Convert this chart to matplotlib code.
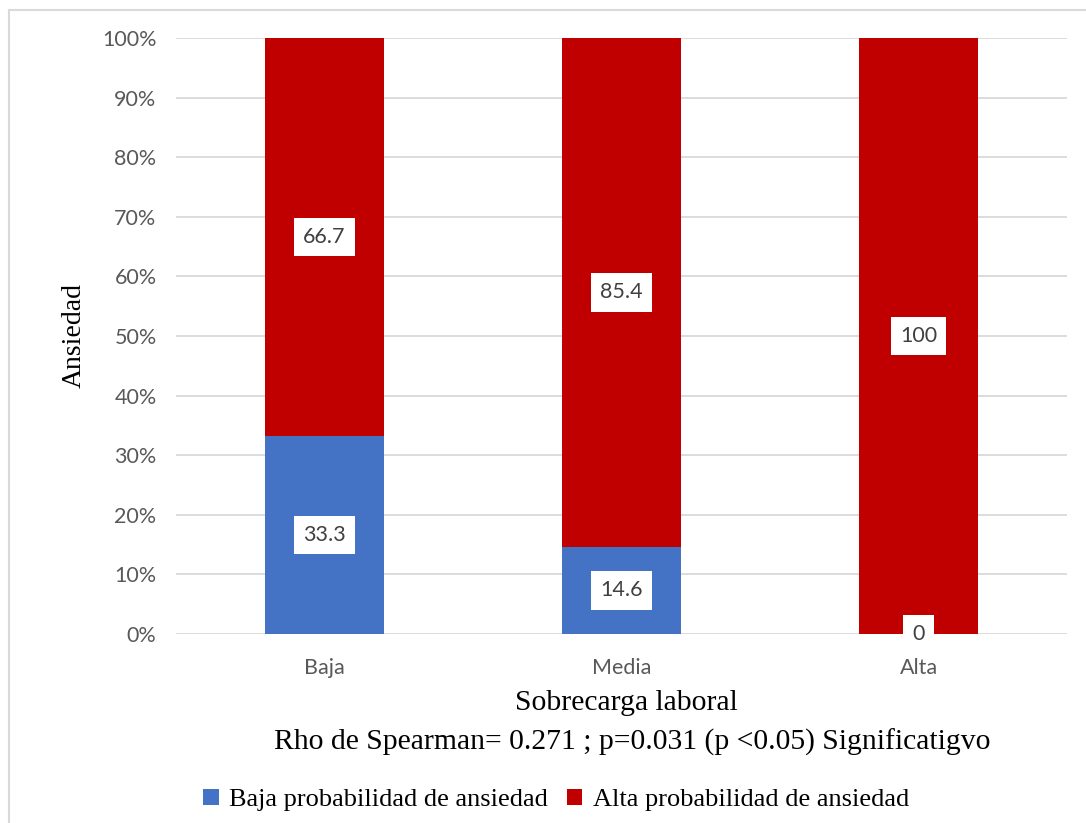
import numpy as np
import matplotlib
matplotlib.use("Agg")
import matplotlib.pyplot as plt
from matplotlib.patches import Rectangle

categories = ["Baja", "Media", "Alta"]
baja_prob = [33.3, 14.6, 0]
alta_prob = [66.7, 85.4, 100]
series_names = ["Baja probabilidad de ansiedad", "Alta probabilidad de ansiedad"]
colors = ["#4472C4", "#C00000"]

fig = plt.figure(figsize=(10.86, 8.23), dpi=100)
ax = fig.add_axes([176/1086, 1-634/823, (1067-176)/1086, (634-38)/823])

# outer chart border
fig.patches.append(Rectangle((9/1086, -0.1), 1.2, 1-10/823+0.1, transform=fig.transFigure,
                             fill=False, edgecolor="#D9D9D9", linewidth=1.5))

x = np.arange(len(categories))
b = np.array(baja_prob) / 100
a = np.array(alta_prob) / 100
ax.bar(x, b, width=0.4, color=colors[0], label=series_names[0], zorder=2)
ax.bar(x, a, width=0.4, bottom=b, color=colors[1], label=series_names[1], zorder=2)

box = dict(boxstyle="square,pad=0.42", facecolor="white", edgecolor="none")
lab_kw = dict(ha="center", va="center", fontsize=15.5, family="Lato", color="#404040",
              bbox=box, zorder=3)
for i in range(len(categories)):
    ax.text(x[i], b[i]/2 if b[i] > 0 else 0, f"{baja_prob[i]:g}", **lab_kw)
    ax.text(x[i], b[i] + a[i]/2, f"{alta_prob[i]:g}", **lab_kw)

ax.set_xlim(-0.5, 2.5)
ax.set_ylim(0, 1)
ax.set_yticks(np.arange(0, 1.01, 0.1))
ax.set_yticklabels([f"{int(round(v*100))}%" for v in np.arange(0, 1.01, 0.1)])
ax.set_xticks(x)
ax.set_xticklabels(categories)
ax.yaxis.grid(True, color="#D9D9D9", linewidth=1.3, zorder=0)
ax.set_axisbelow(True)
for s in ax.spines.values():
    s.set_visible(False)
ax.tick_params(axis="y", length=0, labelsize=15.5, labelcolor="#595959", pad=14)
ax.tick_params(axis="x", length=0, labelsize=15.5, labelcolor="#595959", pad=17)
for lab in ax.get_xticklabels() + ax.get_yticklabels():
    lab.set_family("Lato")

ax.set_ylabel("Ansiedad", family="Liberation Serif", fontsize=20, labelpad=11)
fig.text((516+736)/2/1086, 1-703/823, "Sobrecarga laboral", ha="center", va="center",
         family="Liberation Serif", fontsize=21.3)
fig.text((272+992)/2/1086, 1-742/823,
         "Rho de Spearman= 0.271 ; p=0.031 (p <0.05) Significatigvo",
         ha="center", va="center", family="Liberation Serif", fontsize=21.3)

fig.legend(loc="center", bbox_to_anchor=(556/1086, 1-800/823), ncol=2, frameon=False,
           prop={"family": "Liberation Serif", "size": 19}, handlelength=0.6,
           handleheight=0.6, handletextpad=0.4, columnspacing=0.7)

fig.savefig("out.png", dpi=100)
